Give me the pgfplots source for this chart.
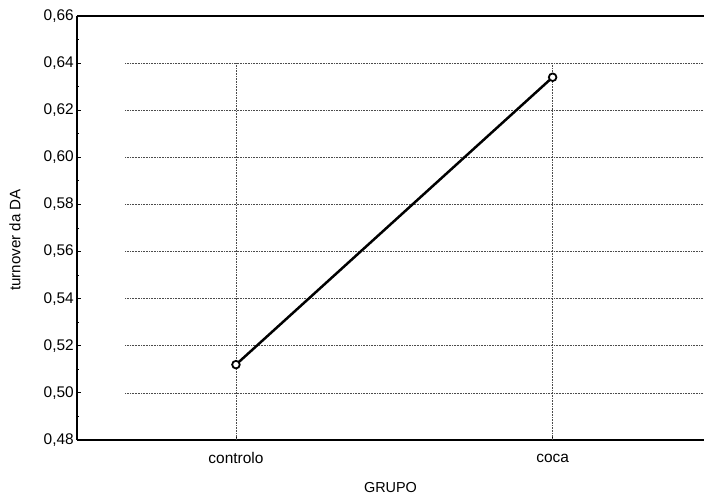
\documentclass[border=0pt]{standalone}
\usepackage{pgfplots}
\pgfplotsset{compat=1.18}
\usepackage{fontspec}
\setmainfont{Liberation Sans}

\begin{document}
\begin{tikzpicture}
\begin{axis}[
  scale only axis,
  width=627bp, height=424bp,
  xmin=-0.502, xmax=1.478,
  ymin=0.48, ymax=0.66,
  axis lines*=left,
  axis line style={line width=1.7pt},
  xtick={0,1},
  xticklabels={controlo,coca},
  ytick={0.48,0.50,...,0.66},
  minor ytick={0.49,0.51,...,0.65},
  tick align=inside,
  major tick length=4bp,
  minor tick length=2.5bp,
  tick style={black, line width=0.9pt},
  /pgf/number format/.cd, fixed, fixed zerofill, precision=2, use comma, assume math mode=true,
  /pgfplots/.cd,
  ticklabel style={font=\fontsize{15.5}{18}\selectfont},
  yticklabel style={inner sep=2bp, xshift=-1bp},
  xticklabel style={anchor=center, yshift=-18bp},
  xlabel={GRUPO},
  ylabel={turnover da DA},
  xlabel style={font=\fontsize{14.5}{17}\selectfont, at={(axis description cs:0.5,-0.111)}, anchor=center},
  ylabel style={font=\fontsize{15.2}{17}\selectfont, at={(axis description cs:-0.099,0.472)}, anchor=center},
  clip=false,
]
% dotted reference grid
\foreach \yy in {0.50,0.52,0.54,0.56,0.58,0.60,0.62,0.64} {
  \edef\tmp{\noexpand\draw[black!70, densely dotted, line width=0.6pt] (axis cs:-0.35,\yy) -- (axis cs:1.478,\yy);}
  \tmp
}
\draw[black!70, densely dotted, line width=0.6pt] (axis cs:0,0.48) -- (axis cs:0,0.64);
\draw[black!70, densely dotted, line width=0.6pt] (axis cs:1,0.48) -- (axis cs:1,0.64);
% top border
\draw[line width=1.7pt] (rel axis cs:0,1) -- (rel axis cs:1,1);
\addplot[black, line width=2.5pt, mark=*, mark size=3.8bp,
  mark options={fill=white, draw=black, line width=1.8pt}]
  coordinates {(0,0.512) (1,0.634)};
\end{axis}
\pgfresetboundingbox
\path[use as bounding box] (-77bp,-59bp) rectangle (627bp,440bp);
\end{tikzpicture}
\end{document}
